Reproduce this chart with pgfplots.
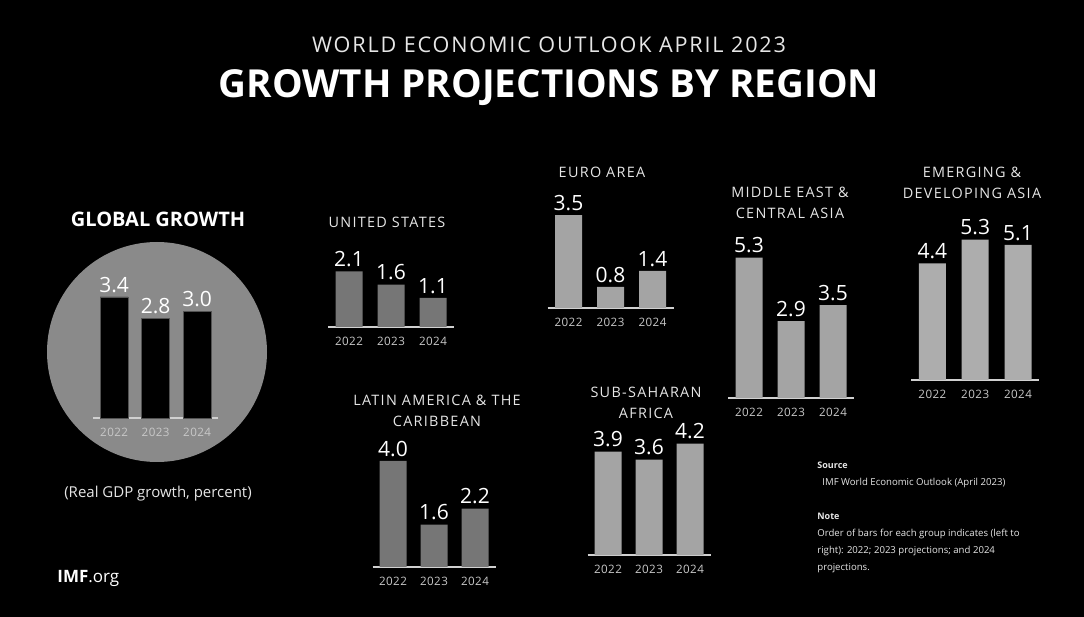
\documentclass[border=0pt]{standalone}
\usepackage{fontspec}
\setmainfont{Open Sans}
\usepackage{pgfplots}
\pgfplotsset{compat=1.18}
\definecolor{bgk}{HTML}{000000}
\definecolor{lineg}{HTML}{D0D0D0}
\definecolor{yearg}{HTML}{C8C8C8}
\definecolor{titg}{HTML}{E6E6E6}
\definecolor{circg}{HTML}{8A8A8A}
\definecolor{barA}{HTML}{767676}
\definecolor{barB}{HTML}{A4A4A4}
\definecolor{barC}{HTML}{ADADAD}
\newcommand{\rtitle}{\fontsize{7.2}{10.5}\selectfont\addfontfeature{LetterSpace=9}}
\pgfplotsset{
  /pgf/number format/assume math mode=true,
  region/.style={
    x=21pt, y=13.25pt, xmin=-0.5, xmax=2.5, ymin=0, ymax=6,
    anchor=south west, clip=false,
    axis x line*=bottom, hide y axis,
    axis line style={draw=lineg, line width=0.7pt, -},
    xtick={0,1,2}, xticklabels={2022,2023,2024}, major tick length=0pt,
    xticklabel style={font=\fontsize{5.8}{6}\selectfont\addfontfeature{LetterSpace=4}, text=yearg, yshift=-1.5pt},
    ybar, bar width=13.5pt, bar shift=0pt,
    nodes near coords={\pgfmathprintnumber[fixed,fixed zerofill,precision=1]{\pgfplotspointmeta}},
    every node near coord/.append style={font=\fontsize{10.5}{11}\selectfont, text=white, inner sep=2pt},
  },
}
\begin{document}
\begin{tikzpicture}
\fill[bgk] (0,0) rectangle (542pt,308.5pt);
\useasboundingbox (0,0) rectangle (542pt,308.5pt);
% titles
\node[text=titg, font=\fontsize{10.8}{10.8}\selectfont\addfontfeature{LetterSpace=8.5}] at (274.5pt,286pt) {WORLD ECONOMIC OUTLOOK APRIL 2023};
\node[text=white, font=\bfseries\fontsize{19.3}{19}\selectfont] at (274.5pt,264.5pt) {GROWTH PROJECTIONS BY REGION};
% global growth
\node[text=white, font=\bfseries\fontsize{10}{10}\selectfont] at (79pt,199pt) {GLOBAL GROWTH};
\fill[circg] (78.5pt,132.5pt) circle (55pt);
\node[text=titg, font=\fontsize{7.5}{8}\selectfont] at (79pt,61.5pt) {(Real GDP growth, percent)};
\begin{axis}[region, at={(46.7pt,99.5pt)}, x=20.75pt, y=17.8pt, ymax=4, bar width=14pt]
\addplot[fill=black, draw=circg!60!black] coordinates {(0,3.4) (1,2.8) (2,3.0)};
\end{axis}
% United States
\node[text=titg, font=\rtitle] at (193.5pt,197.5pt) {UNITED STATES};
\begin{axis}[region, at={(164pt,145pt)}]
\addplot[fill=barA, draw=none] coordinates {(0,2.1) (1,1.6) (2,1.1)};
\end{axis}
% Euro area
\node[text=titg, font=\rtitle] at (301pt,222.5pt) {EURO AREA};
\begin{axis}[region, at={(273.75pt,154.5pt)}]
\addplot[fill=barB, draw=none] coordinates {(0,3.5) (1,0.8) (2,1.4)};
\end{axis}
% Middle East & Central Asia
\node[text=titg, font=\rtitle, align=center] at (395pt,207pt) {MIDDLE EAST \&\\CENTRAL ASIA};
\begin{axis}[region, at={(364pt,109.5pt)}]
\addplot[fill=barB, draw=none] coordinates {(0,5.3) (1,2.9) (2,3.5)};
\end{axis}
% Emerging & Developing Asia
\node[text=titg, font=\rtitle, align=center] at (486pt,217.25pt) {EMERGING \&\\DEVELOPING ASIA};
\begin{axis}[region, at={(455.5pt,118.5pt)}, x=21.4pt]
\addplot[fill=barC, draw=none] coordinates {(0,4.4) (1,5.3) (2,5.1)};
\end{axis}
% Latin America & the Caribbean
\node[text=titg, font=\rtitle, align=center] at (218.5pt,103pt) {LATIN AMERICA \& THE\\CARIBBEAN};
\begin{axis}[region, at={(186.25pt,25pt)}, x=20.5pt]
\addplot[fill=barA, draw=none] coordinates {(0,4.0) (1,1.6) (2,2.2)};
\end{axis}
% Sub-Saharan Africa
\node[text=titg, font=\rtitle, align=center] at (323pt,107.25pt) {SUB-SAHARAN\\AFRICA};
\begin{axis}[region, at={(293.75pt,31pt)}, x=20.5pt]
\addplot[fill=barB, draw=none] coordinates {(0,3.9) (1,3.6) (2,4.2)};
\end{axis}
% source and note
\node[anchor=west, text=titg, inner sep=0pt, font=\bfseries\fontsize{4.5}{5}\selectfont] at (408.5pt,76pt) {Source};
\node[anchor=west, text=titg, inner sep=0pt, font=\fontsize{4.8}{5}\selectfont] at (411pt,67pt) {IMF World Economic Outlook (April 2023)};
\node[anchor=west, text=titg, inner sep=0pt, font=\bfseries\fontsize{4.5}{5}\selectfont] at (408.5pt,50.5pt) {Note};
\node[anchor=north west, text=titg, font=\fontsize{4.8}{8.5}\selectfont, align=left, inner sep=0pt] at (408.5pt,44pt) {Order of bars for each group indicates (left to\\ right): 2022; 2023 projections; and 2024\\ projections.};
% IMF.org
\node[anchor=west, text=white, font=\fontsize{8.5}{9}\selectfont, inner sep=0pt] at (28.5pt,19.5pt) {\textbf{IMF}.org};
\end{tikzpicture}
\end{document}
